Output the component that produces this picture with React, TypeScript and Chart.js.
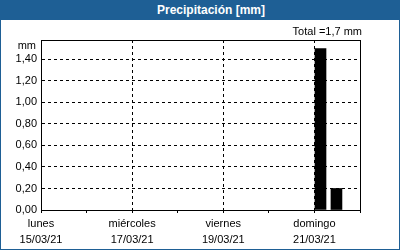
import React, { useEffect, useRef } from "react";
import { Chart, registerables } from "chart.js";

Chart.register(...registerables);

const TITLE = "Precipitación [mm]";
const TOTAL_LABEL = "Total =1,7 mm";
const UNIT_LABEL = "mm";

// x positions in hours since lunes 15/03/21 00:00
const barHours = [147.2, 155.6];
const barValues = [1.5, 0.2];

const dayTickHours = [0, 48, 96, 144];
const dayNames = ["lunes", "miércoles", "viernes", "domingo"];
const dayDates = ["15/03/21", "17/03/21", "19/03/21", "21/03/21"];

const xMin = 0;
const xMax = 168;
const xStep = 24;
const yTicks = [0, 0.2, 0.4, 0.6, 0.8, 1.0, 1.2, 1.4];
const yMax = 1.58;

const FONT = "'Liberation Sans', Arial, sans-serif";
const BLUE = "#1e5f95";

const frameAndTexts = {
  id: "frameAndTexts",
  afterDraw(chart: any) {
    const { ctx, chartArea } = chart;
    ctx.save();
    ctx.strokeStyle = "#000";
    ctx.lineWidth = 1;
    ctx.strokeRect(
      Math.round(chartArea.left) + 0.5,
      Math.round(chartArea.top) + 0.5,
      Math.round(chartArea.right - chartArea.left),
      Math.round(chartArea.bottom - chartArea.top)
    );
    ctx.fillStyle = "#000";
    ctx.font = `11px ${FONT}`;
    ctx.textAlign = "right";
    ctx.textBaseline = "middle";
    ctx.fillText(TOTAL_LABEL, chartArea.right + 2, chartArea.top - 8);
    ctx.fillText(UNIT_LABEL, chartArea.left - 5, chartArea.top + 6);
    ctx.restore();
  },
};

export default function App() {
  const ref = useRef<HTMLCanvasElement | null>(null);

  useEffect(() => {
    if (!ref.current) return;
    const chart = new Chart(ref.current, {
      type: "bar",
      data: {
        datasets: [
          {
            data: barHours.map((h, i) => ({ x: h, y: barValues[i] })),
            backgroundColor: "#000",
            borderWidth: 0,
            barThickness: 11,
          },
        ],
      },
      options: {
        animation: false,
        responsive: false,
        maintainAspectRatio: false,
        layout: { padding: { top: 20, right: 39, left: 0, bottom: 0 } },
        plugins: {
          legend: { display: false },
          tooltip: { enabled: false },
          title: { display: false },
        },
        scales: {
          x: {
            type: "linear",
            min: xMin,
            max: xMax,
            offset: false,
            afterFit: (s: any) => {
              s.height = 39;
            },
            ticks: {
              stepSize: xStep,
              autoSkip: false,
              maxRotation: 0,
              padding: 3,
              color: "#000",
              font: { family: FONT, size: 11, lineHeight: 1.45 },
              callback: (v: any) => {
                const i = dayTickHours.indexOf(Number(v));
                return i >= 0 ? [dayNames[i], dayDates[i]] : "";
              },
            },
            grid: {
              offset: false,
              color: (c: any) => {
                const v = c.tick ? c.tick.value : -1;
                return dayTickHours.includes(v) && v > xMin ? "#000" : "rgba(0,0,0,0)";
              },
              tickColor: "#000",
              tickLength: 3,
              lineWidth: 1,
            },
            border: { display: true, color: "#000", dash: [3, 3] },
          },
          y: {
            min: 0,
            max: yMax,
            afterFit: (s: any) => {
              s.width = 40;
            },
            afterBuildTicks: (s: any) => {
              s.ticks = yTicks.map((v) => ({ value: v }));
            },
            ticks: {
              padding: 4,
              color: "#000",
              font: { family: FONT, size: 11 },
              callback: (v: any) => Number(v).toFixed(2).replace(".", ","),
            },
            grid: {
              color: (c: any) => (c.tick && c.tick.value > 0 ? "#000" : "rgba(0,0,0,0)"),
              drawTicks: false,
              lineWidth: 1,
            },
            border: { display: true, color: "#000", dash: [3, 3] },
          },
        },
      },
      plugins: [frameAndTexts],
    });
    return () => chart.destroy();
  }, []);

  return (
    <div
      style={{
        position: "fixed",
        left: 0,
        top: 0,
        width: 400,
        height: 250,
        boxSizing: "border-box",
        border: `1px solid ${BLUE}`,
        background: "#fff",
        overflow: "hidden",
      }}
    >
      <div
        style={{
          height: 19,
          background: BLUE,
          color: "#fff",
          fontFamily: FONT,
          fontWeight: "bold",
          fontSize: 12,
          lineHeight: "19px",
          textAlign: "center",
          paddingLeft: 22,
        }}
      >
        {TITLE}
      </div>
      <canvas ref={ref} width={398} height={229} style={{ display: "block" }} />
    </div>
  );
}
